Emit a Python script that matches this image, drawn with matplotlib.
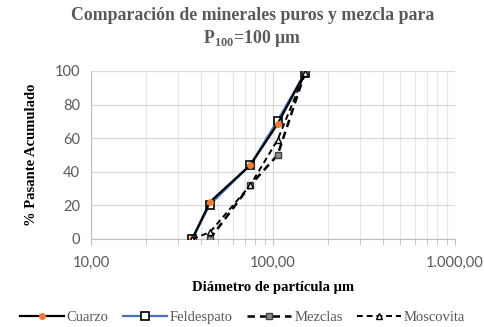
import numpy as np
import matplotlib
matplotlib.use("Agg")
import matplotlib.pyplot as plt
from matplotlib.ticker import FixedLocator, LogLocator, NullFormatter

# ── data ──────────────────────────────────────────────────────────────────
size_cuarzo = [36, 45, 75, 106, 150]
pass_cuarzo = [0, 22, 44, 68.5, 99]

size_feld = [36, 45, 75, 106, 150]
pass_feld = [0, 20.5, 44, 70.5, 99]

size_mezcla = [45, 75, 106, 150]
pass_mezcla = [0, 32, 50, 99]

size_mosc = [36, 45, 75, 106, 150]
pass_mosc = [0, 4, 32, 59, 99]

x_ticks = [10, 100, 1000]
x_tick_labels = ["10,00", "100,00", "1.000,00"]
y_ticks = [0, 20, 40, 60, 80, 100]

# ── figure ────────────────────────────────────────────────────────────────
fig = plt.figure(figsize=(4.85, 3.27), dpi=100)
ax = fig.add_axes([91/485, 1-239/327, (455-91)/485, (239-71)/327])

ax.plot(size_cuarzo, pass_cuarzo, color="black", lw=1.6, marker="o", ms=4,
        mfc="#ed7d31", mec="#ed7d31", label="Cuarzo", zorder=4)
ax.plot(size_feld, pass_feld, color="#4472c4", lw=1.6, marker="s", ms=5.5,
        mfc="white", mec="black", mew=1.2, label="Feldespato", zorder=3)
ax.plot(size_mezcla, pass_mezcla, color="black", lw=1.8, ls=(0, (3, 2)),
        marker="s", ms=4, mfc="#8c8c8c", mec="#404040", label="Mezclas", zorder=5)
ax.plot(size_mosc, pass_mosc, color="black", lw=1.4, ls=(0, (3, 2)),
        marker="^", ms=5, mfc="white", mec="black", label="Moscovita", zorder=5)

ax.set_xscale("log")
ax.set_xlim(10, 1000)
ax.set_ylim(0, 100)
ax.xaxis.set_major_locator(FixedLocator(x_ticks))
ax.set_xticklabels(x_tick_labels)
ax.xaxis.set_minor_locator(LogLocator(base=10, subs=np.arange(2, 10)))
ax.xaxis.set_minor_formatter(NullFormatter())
ax.set_yticks(y_ticks)

ax.grid(which="major", color="#d9d9d9", lw=0.9)
ax.grid(which="minor", axis="x", color="#e6e6e6", lw=0.8)
ax.set_axisbelow(True)

for s in ["top", "right"]:
    ax.spines[s].set_visible(False)
for s in ["bottom", "left"]:
    ax.spines[s].set_color("#bfbfbf")
ax.tick_params(axis="x", which="both", direction="out", length=4, color="#bfbfbf",
               labelsize=10.5, labelcolor="#595959", pad=8)
ax.tick_params(axis="y", length=0, labelsize=10.5, labelcolor="#595959", pad=8)
for lab in ax.get_xticklabels() + ax.get_yticklabels():
    lab.set_family("Lato")

serif = "Liberation Serif"
fig.text(0.52, 0.952, "Comparación de minerales puros y mezcla para",
         ha="center", va="center", fontsize=12.8, fontweight="bold",
         color="#595959", family=serif)
fig.text(0.52, 0.882, r"P$_{\mathregular{100}}$=100 µm",
         ha="center", va="center", fontsize=12.8, fontweight="bold",
         color="#595959", family=serif)

ax.set_xlabel("Diámetro de partícula µm", fontsize=10.5, fontweight="bold",
              family=serif, labelpad=8)
ax.set_ylabel("% Pasante Acumulado", fontsize=10.5, fontweight="bold",
              family=serif, labelpad=12)

fig.legend(loc="center", bbox_to_anchor=(0.5, 0.028), ncol=4, frameon=False,
           prop={"family": serif, "size": 10.5}, handlelength=3.0,
           columnspacing=1.0, handletextpad=0.2, labelcolor="#595959")

fig.savefig("out.png", dpi=100)
